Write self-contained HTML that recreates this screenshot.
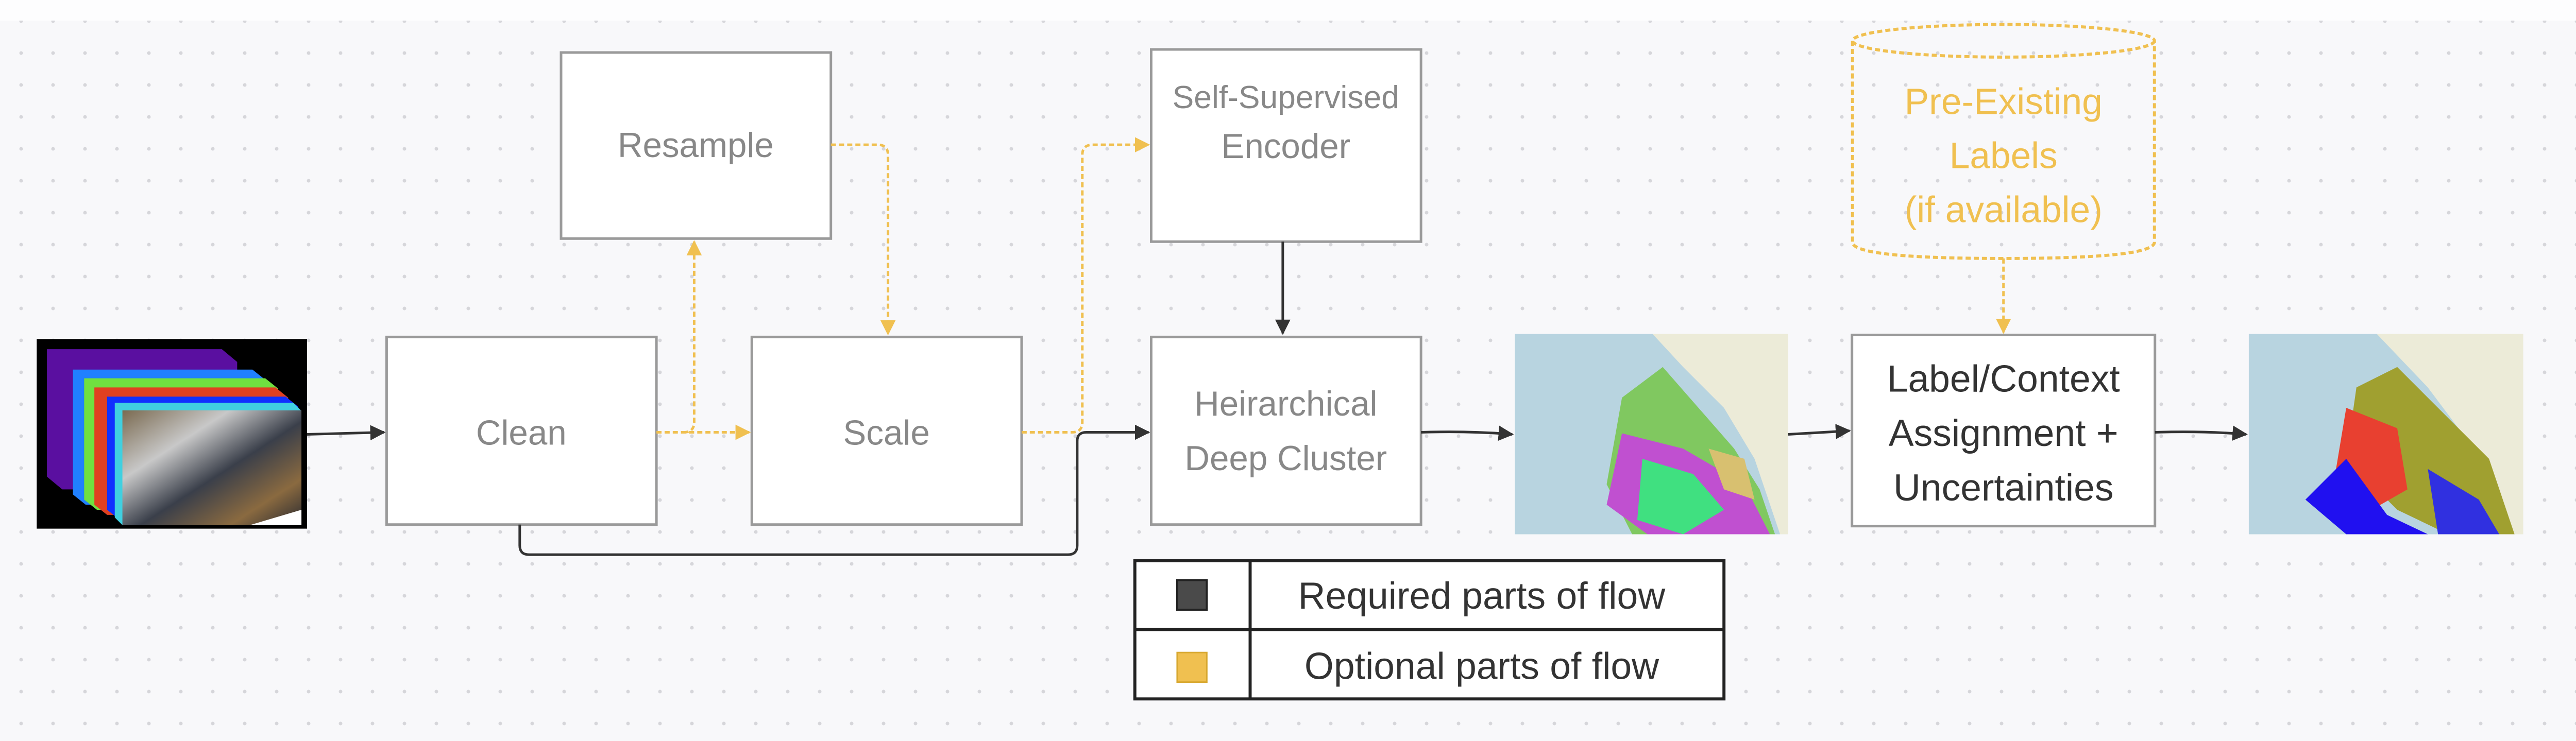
<!DOCTYPE html>
<html><head><meta charset="utf-8"><style>
html,body{margin:0;padding:0}
body{width:5056px;height:1439px;overflow:hidden;background:#f8f8fa}
svg{display:block}
text{font-family:"Liberation Sans",sans-serif}
</style></head><body>
<svg width="5056" height="1439" viewBox="0 0 5056 1439" xmlns="http://www.w3.org/2000/svg">
<defs>
<pattern id="dots" width="62" height="62" patternUnits="userSpaceOnUse" x="10" y="10">
<circle cx="31" cy="31" r="3.5" fill="#d6d6da"/>
</pattern>
<marker id="ab" viewBox="0 0 10 10" refX="9" refY="5" markerWidth="6" markerHeight="6" orient="auto"><path d="M0,0 L10,5 L0,10 z" fill="#333"/></marker>
<marker id="ao" viewBox="0 0 10 10" refX="9" refY="5" markerWidth="6" markerHeight="6" orient="auto"><path d="M0,0 L10,5 L0,10 z" fill="#f0c050"/></marker>
<linearGradient id="photo" x1="0" y1="0" x2="1" y2="1">
<stop offset="0" stop-color="#7a6a50"/><stop offset="0.3" stop-color="#c8c8c8"/><stop offset="0.55" stop-color="#3a3f4a"/><stop offset="0.8" stop-color="#8a6a40"/><stop offset="1" stop-color="#2a2a30"/>
</linearGradient>
</defs>
<rect x="0" y="0" width="5056" height="40" fill="#fdfdfe"/>
<rect x="0" y="40" width="5056" height="1399" fill="url(#dots)"/>

<g transform="scale(0.99)">
<rect x="72" y="665" width="530" height="372" fill="#000"/>
<polygon points="92,685 435,685 465,710 465,960 122,960 92,935" fill="#5a0fa0"/>
<polygon points="143,725 495,725 520,745 520,990 168,990 143,970" fill="#2080ff"/>
<polygon points="165,742 520,742 545,762 545,1000 190,1000 165,980" fill="#70e040"/>
<polygon points="185,760 540,760 565,780 565,1010 210,1010 185,990" fill="#e04020"/>
<polygon points="210,778 560,778 585,798 585,1020 235,1020 210,1000" fill="#1030ff"/>
<polygon points="225,790 575,790 590,805 590,1030 240,1030 225,1015" fill="#40d0e0"/>
<rect x="240" y="805" width="351" height="225" fill="url(#photo)"/>
<polygon points="490,1030 591,1000 591,1030" fill="#fff"/>

<g fill="#fff" stroke="#9a9a9a" stroke-width="5">
<rect x="1100" y="103" width="529" height="365"/>
<rect x="2257" y="97" width="529" height="377"/>
<rect x="758" y="661" width="529" height="368"/>
<rect x="1474" y="661" width="529" height="368"/>
<rect x="2257" y="661" width="529" height="368"/>
<rect x="3631" y="657" width="594" height="375"/>
</g>
<g font-size="68" fill="#888" text-anchor="middle">
<text x="1364" y="308">Resample</text>
<text x="2521" y="212" font-size="63">Self-Supervised</text>
<text x="2521" y="310">Encoder</text>
<text x="1022" y="872">Clean</text>
<text x="1738" y="872">Scale</text>
<text x="2521" y="815">Heirarchical</text>
<text x="2521" y="922">Deep Cluster</text>
</g>
<g font-size="74" fill="#333" text-anchor="middle">
<text x="3928" y="768">Label/Context</text>
<text x="3928" y="875">Assignment +</text>
<text x="3928" y="982">Uncertainties</text>
</g>

<g fill="none" stroke="#f0c050" stroke-width="6" stroke-dasharray="10,6">
<ellipse cx="3928" cy="80" rx="296" ry="32"/>
<path d="M3632,80 V475 Q3632,507 3928,507 Q4224,507 4224,475 V80"/>
</g>
<g font-size="72" fill="#f0c050" text-anchor="middle">
<text x="3928" y="224">Pre-Existing</text>
<text x="3928" y="330">Labels</text>
<text x="3928" y="436">(if available)</text>
</g>

<g>
<rect x="2970" y="655" width="536" height="393" fill="#b8d4e0"/>
<polygon points="3240,655 3506,655 3506,1048 3490,1048 3440,900 3380,800 3300,720" fill="#ecebd8"/>
<polygon points="3180,780 3260,720 3330,800 3400,880 3450,960 3480,1048 3200,1048 3150,950" fill="#80c860"/>
<polygon points="3180,850 3300,880 3420,950 3470,1048 3230,1048 3150,990" fill="#c050d0"/>
<polygon points="3220,900 3320,930 3380,1000 3300,1048 3210,1020" fill="#40e080"/>
<polygon points="3350,880 3420,900 3440,980 3380,960" fill="#d8c070"/>
<rect x="4409" y="655" width="538" height="393" fill="#b8d4e0"/>
<polygon points="4660,655 4947,655 4947,1048 4900,1048 4850,880 4760,760" fill="#ecebd8"/>
<polygon points="4620,760 4700,720 4780,800 4880,900 4930,1048 4800,1048 4700,1000 4600,900" fill="#a0a030"/>
<polygon points="4600,800 4700,840 4720,960 4650,1000 4580,920" fill="#e84030"/>
<polygon points="4520,980 4600,900 4680,1010 4760,1048 4600,1048" fill="#2010f0"/>
<polygon points="4760,920 4860,980 4900,1048 4780,1048" fill="#3030e0"/>
</g>

<g fill="none" stroke-width="5" stroke="#333">
<path d="M602,852 Q680,850 753,848" marker-end="url(#ab)"/>
<path d="M2515,474 V654" marker-end="url(#ab)"/>
<path d="M1019,1029 V1070 Q1019,1088 1037,1088 H2094 Q2112,1088 2112,1070 V865 Q2112,848 2130,848 H2252" marker-end="url(#ab)"/>
<path d="M2786,848 Q2880,845 2965,852" marker-end="url(#ab)"/>
<path d="M3506,852 Q3570,848 3626,845" marker-end="url(#ab)"/>
<path d="M4225,848 Q4320,845 4404,852" marker-end="url(#ab)"/>
</g>
<g fill="none" stroke-width="5" stroke="#f0c050" stroke-dasharray="10,6">
<path d="M1287,848 H1469" marker-end="url(#ao)"/>
<path d="M1340,848 Q1361,848 1361,828 V474" marker-end="url(#ao)"/>
<path d="M1629,284 H1721 Q1741,284 1741,304 V655" marker-end="url(#ao)"/>
<path d="M2003,848 H2102 Q2122,848 2122,828 V304 Q2122,284 2142,284 H2252" marker-end="url(#ao)"/>
<path d="M3928,507 V652" marker-end="url(#ao)"/>
</g>

<g stroke="#222" stroke-width="6" fill="#fff">
<rect x="2225" y="1100" width="1155" height="271"/>
<line x1="2225" y1="1235" x2="3380" y2="1235"/>
<line x1="2451" y1="1100" x2="2451" y2="1371"/>
</g>
<rect x="2308" y="1138" width="58" height="58" fill="#4a4a4a" stroke="#222" stroke-width="4"/>
<rect x="2308" y="1280" width="58" height="58" fill="#f0c050" stroke="#d8a830" stroke-width="3"/>
<g font-size="74" fill="#333" text-anchor="middle">
<text x="2905" y="1194">Required parts of flow</text>
<text x="2905" y="1332">Optional parts of flow</text>
</g>
</g>
</svg>
</body></html>
